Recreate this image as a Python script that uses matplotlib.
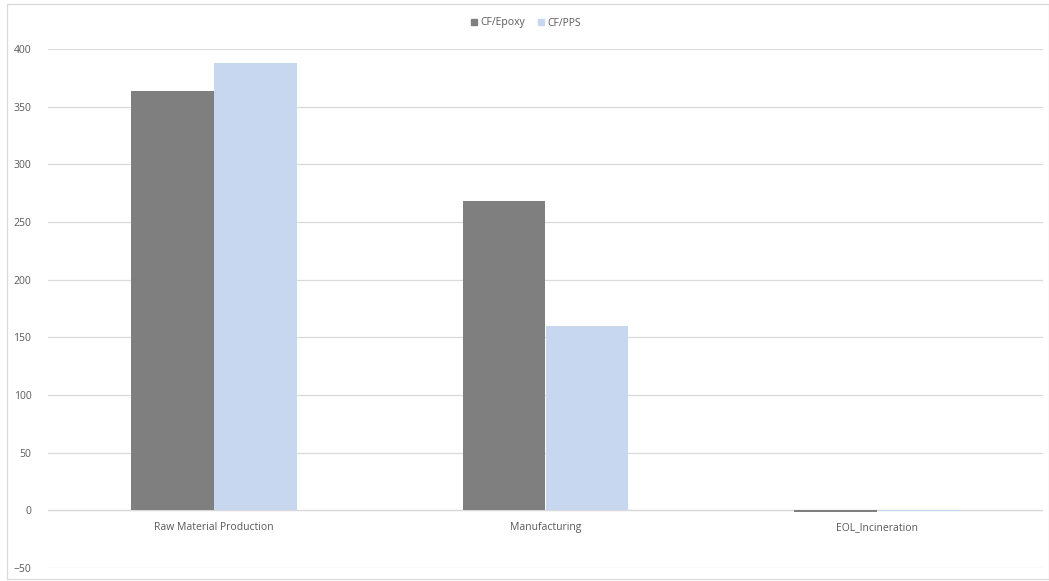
import numpy as np
import matplotlib.pyplot as plt
from matplotlib.lines import Line2D

# Data
categories = ["Raw Material Production", "Manufacturing", "EOL_Incineration"]
series_names = ["CF/Epoxy", "CF/PPS"]
epoxy = [364, 268, -1.2]
pps = [388, 160, -0.6]
yticks = [-50, 0, 50, 100, 150, 200, 250, 300, 350, 400]

colors = ["#7f7f7f", "#c6d7ef"]
text_color = "#595959"
plt.rcParams['font.family'] = ['Open Sans', 'DejaVu Sans']

W, H = 1049, 581
fig = plt.figure(figsize=(W / 100, H / 100), dpi=100)
ax = fig.add_axes([48 / W, 13 / H, (1043 - 48) / W, (568 - 49) / H])

x = np.arange(len(categories))
bw = 0.25
ax.bar(x - bw / 2, epoxy, bw, color=colors[0], label=series_names[0], zorder=3)
ax.bar(x + bw / 2, pps, bw, color=colors[1], label=series_names[1], zorder=3)

ax.set_xlim(-0.5, 2.5)
ax.set_ylim(-50, 400)
ax.set_yticks(yticks)
ax.grid(axis='y', color='#d9d9d9', linewidth=0.9, zorder=0)
ax.axhline(0, color='#d9d9d9', linewidth=0.9, zorder=1)
for s in ax.spines.values():
    s.set_visible(False)
ax.tick_params(axis='both', length=0, labelsize=7.5, labelcolor=text_color)
ax.tick_params(axis='y', pad=12)
ax.set_xticks([])

# category labels just below the zero line
for xi, name in zip(x, categories):
    ax.text(xi, -10, name, ha='center', va='top', fontsize=7.5, color=text_color)

# legend
handles = [Line2D([], [], marker='s', linestyle='none', markersize=5,
                  markerfacecolor=c, markeredgecolor=c) for c in colors]
fig.legend(handles, series_names, loc='center', bbox_to_anchor=(525 / W, 1 - 23 / H),
           ncol=2, frameon=False, fontsize=7.5, labelcolor=text_color,
           handletextpad=0.1, columnspacing=1.0, handlelength=1.0)

# outer chart frame
frame = plt.Rectangle((7 / W, 2 / H), 1 - 7 / W, 1 - 6 / H, transform=fig.transFigure,
                      fill=False, edgecolor='#d9d9d9', linewidth=0.9)
fig.add_artist(frame)

fig.savefig("out.png", dpi=100, facecolor='white')
